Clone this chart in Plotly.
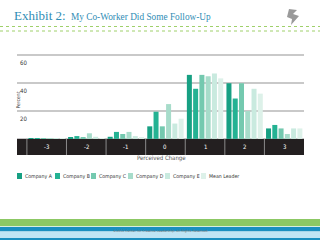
import plotly.graph_objects as go

categories = ["-3", "-2", "-1", "0", "1", "2", "3"]
company_a = [0.5, 1, 1.5, 9, 46, 40, 7.5]
company_b = [0.5, 2, 5, 19.5, 36, 29, 10]
company_c = [0.3, 1, 3.5, 9, 46, 40, 7.5]
company_d = [0.3, 4, 5, 25, 45, 20, 3.5]
company_e = [0.3, 1.5, 2, 11, 47, 36, 7.5]
mean_leader = [0.2, 0.5, 1, 14.5, 43.5, 32.5, 7.5]
series_names = ["Company A", "Company B", "Company C", "Company D", "Company E", "Mean Leader"]
series_values = [company_a, company_b, company_c, company_d, company_e, mean_leader]
y_ticks = [20, 40, 60]

colors = ["#17a083", "#24b293", "#74c9af", "#a7dcca", "#c9eadf", "#ddf1e9"]

# pixel layout helpers
L, R, T, B = 17, 304, 49, 155
W, H = R - L, B - T
def px(p):
    return (p - L) / W
def py(p):
    return (B - p) / H

fig = go.Figure()
for name, vals, col in zip(series_names, series_values, colors):
    fig.add_trace(go.Bar(x=categories, y=vals, name=name, marker=dict(color=col, line=dict(width=0)),
                         showlegend=False))

shapes = []
annotations = []

# dark band for category axis
shapes.append(dict(type="rect", xref="paper", yref="y", x0=0, x1=1, y0=-11.6, y1=0,
                   fillcolor="#231f20", line=dict(width=0), layer="below"))
for i, cat in enumerate(categories):
    shapes.append(dict(type="line", xref="x", yref="y", x0=i - 0.5, x1=i - 0.5, y0=-11.6, y1=0,
                       line=dict(color="#8a8a8a", width=1)))
    annotations.append(dict(x=i, y=-5.8, xref="x", yref="y", text=cat,
                            showarrow=False, font=dict(family="DejaVu Sans Condensed", size=6, color="#ffffff")))

# y tick labels
for t in y_ticks:
    annotations.append(dict(x=px(18), y=t, xref="paper", yref="y", text=str(t), showarrow=False,
                            xanchor="left", yanchor="top", yshift=-2,
                            font=dict(family="DejaVu Sans Condensed", size=6, color="#333333")))

annotations.append(dict(x=px(12.5), y=py(100), xref="paper", yref="paper", text="Percent", textangle=-90,
                        showarrow=False, font=dict(family="DejaVu Sans Condensed", size=5, color="#444444")))
annotations.append(dict(x=px(161), y=py(164), xref="paper", yref="paper", text="Perceived Change",
                        showarrow=False, font=dict(family="DejaVu Sans Condensed", size=6, color="#555555")))

# manual legend
leg_x = [17, 55, 91, 128, 165, 201]
for xpos, name, col in zip(leg_x, series_names, colors):
    shapes.append(dict(type="rect", xref="paper", yref="paper", x0=px(xpos), x1=px(xpos + 5),
                       y0=py(179), y1=py(173), fillcolor=col, line=dict(width=0)))
    annotations.append(dict(x=px(xpos + 6), y=py(176), xref="paper", yref="paper", text=name,
                            showarrow=False, xanchor="left", yanchor="middle",
                            font=dict(family="DejaVu Sans Condensed", size=5.2, color="#333333")))

# title
annotations.append(dict(x=px(12), y=py(16), xref="paper", yref="paper", text="Exhibit 2:",
                        showarrow=False, xanchor="left", yanchor="middle",
                        font=dict(family="Liberation Serif", size=13, color="#2f8db5")))
annotations.append(dict(x=px(69), y=py(16.5), xref="paper", yref="paper", text="My Co-Worker Did Some Follow-Up",
                        showarrow=False, xanchor="left", yanchor="middle",
                        font=dict(family="Liberation Serif", size=9.3, color="#2f8db5")))

# dotted header lines
for yy in (26.5, 31):
    shapes.append(dict(type="line", xref="paper", yref="paper", x0=px(0), x1=px(320), y0=py(yy), y1=py(yy),
                       line=dict(color="#9fd06a", width=1, dash="dot")))

# logo (simple grey mark)
shapes.append(dict(type="path", xref="paper", yref="paper",
                   path=f"M {px(289)} {py(9)} L {px(297)} {py(10)} L {px(293)} {py(14)} L {px(299)} {py(16)} "
                        f"L {px(291)} {py(25)} L {px(292)} {py(19)} L {px(287)} {py(17)} Z",
                   fillcolor="#9a9a9a", line=dict(width=0)))

# bottom stripes
stripes = [(219, 226, "#8cc864"), (226, 227, "#d8eede"), (227, 231.5, "#1a8fc0"),
           (231.5, 238, "#bfe4f4"), (238, 240, "#1a8fc0")]
for y0, y1, col in stripes:
    shapes.append(dict(type="rect", xref="paper", yref="paper", x0=px(0), x1=px(320), y0=py(y1), y1=py(y0),
                       fillcolor=col, line=dict(width=0)))
annotations.append(dict(x=px(160), y=py(235), xref="paper", yref="paper",
                        text="©2012 Center for Creative Leadership. All Rights Reserved.",
                        showarrow=False, font=dict(family="DejaVu Sans", size=3.2, color="#777777")))

fig.update_layout(
    width=320, height=240,
    margin=dict(l=L, r=320 - R, t=T, b=240 - B, pad=0),
    paper_bgcolor="#ffffff", plot_bgcolor="#ffffff",
    barmode="group", bargap=0.05, bargroupgap=0.2,
    xaxis=dict(type="category", categoryorder="array", categoryarray=categories,
               range=[-0.75, 6.5], showticklabels=False, showgrid=False, zeroline=False, showline=False,
               fixedrange=True),
    yaxis=dict(range=[-11.6, 64.6], tickvals=y_ticks, showticklabels=False, showgrid=True,
               gridcolor="#c9c9c9", gridwidth=2, zeroline=False, showline=False),
    shapes=shapes, annotations=annotations,
    showlegend=False,
)

fig.write_html("out.html")
